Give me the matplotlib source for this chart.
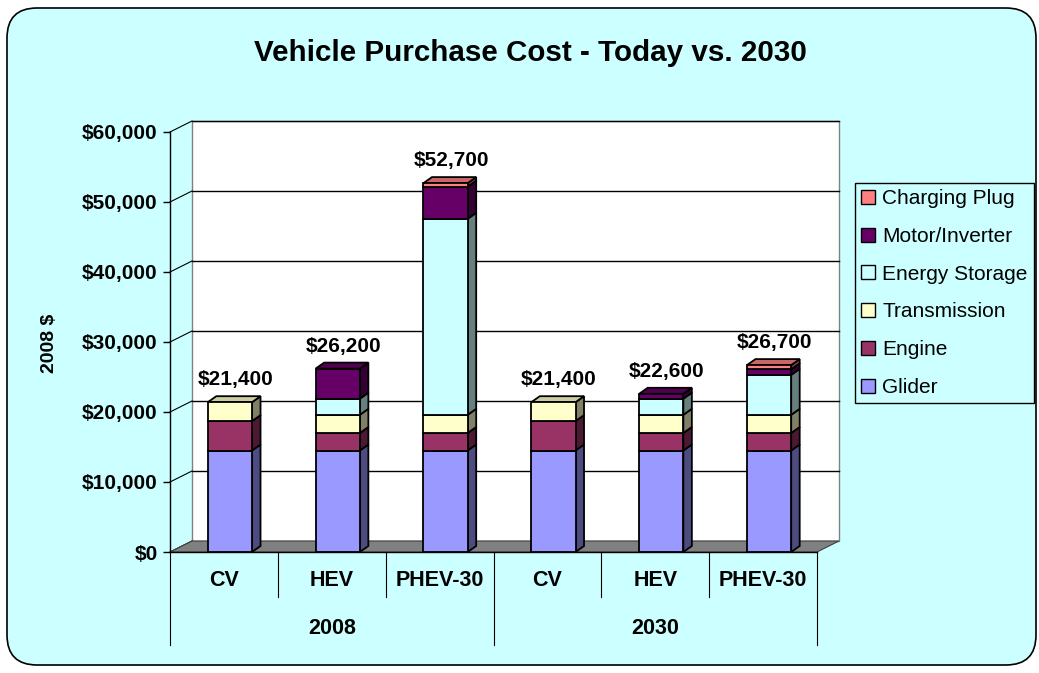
import matplotlib
matplotlib.use("Agg")
import matplotlib.pyplot as plt
from matplotlib.patches import Polygon, Rectangle, FancyBboxPatch, Patch
from matplotlib.ticker import FuncFormatter, MultipleLocator

plt.rcParams['font.family'] = ['Liberation Sans', 'DejaVu Sans']
plt.rcParams['font.weight'] = 'bold'

# data (2008 $)
vehicles = ["CV", "HEV", "PHEV-30", "CV", "HEV", "PHEV-30"]
years = ["2008", "2030"]
components = ["Glider", "Engine", "Transmission", "Energy Storage",
              "Motor/Inverter", "Charging Plug"]
glider = [14500, 14500, 14500, 14500, 14500, 14500]
engine = [4200, 2500, 2500, 4200, 2500, 2500]
transmission = [2700, 2600, 2600, 2700, 2600, 2600]
energy_storage = [0, 2300, 28000, 0, 2300, 5700]
motor_inverter = [0, 4300, 4600, 0, 700, 800]
charging_plug = [0, 0, 500, 0, 0, 600]
totals = [21400, 26200, 52700, 21400, 22600, 26700]

series = [glider, engine, transmission, energy_storage, motor_inverter, charging_plug]
face = ["#9999FF", "#993366", "#FFFFCC", "#CCFFFF", "#660066", "#FF8080"]
side = ["#4C4C80", "#4C1933", "#808066", "#668080", "#330033", "#804040"]
top = ["#8080D0", "#7A2952", "#CCCCA3", "#A3CCCC", "#520052", "#CC6666"]
bg = "#CCFFFF"

W, H = 1039, 673
fig = plt.figure(figsize=(W / 100, H / 100), dpi=100)
fig.patch.set_facecolor("white")
fig.patches.append(FancyBboxPatch((0.07, 0.08), 10.29, 6.57,
                                  boxstyle="round,pad=0,rounding_size=0.3",
                                  fc=bg, ec="black", lw=1.2,
                                  transform=fig.dpi_scale_trans, zorder=-5))

ax = fig.add_axes([170 / W, (H - 552) / H, 647 / W, 420 / H])
ax.set_xlim(0, 6)
ax.set_ylim(0, 60000)
ax.patch.set_visible(False)
for s in ["top", "right", "bottom"]:
    ax.spines[s].set_visible(False)
ax.spines["left"].set_linewidth(1)
ax.set_xticks([])
ax.yaxis.set_major_locator(MultipleLocator(10000))
ax.yaxis.set_major_formatter(FuncFormatter(lambda v, p: f"${v:,.0f}"))
ax.tick_params(axis="y", direction="out", length=5, width=1, labelsize=15, pad=4)

# 3d depth offsets (wall and bars) in data units
px_x = 647 / 6
px_y = 420 / 60000
wdx, wdy = 22 / px_x, 11 / px_y
bdx, bdy = 8.5 / px_x, 6 / px_y

# back wall + grid
ax.add_patch(Rectangle((wdx, wdy), 6, 60000, fc="white", ec="#808080", lw=1,
                       zorder=0.5, clip_on=False))
for v in range(10000, 60001, 10000):
    ax.plot([wdx, 6 + wdx], [v + wdy, v + wdy], color="black", lw=1,
            zorder=0.6, clip_on=False)
for v in range(0, 60001, 10000):
    ax.plot([0, wdx], [v, v + wdy], color="black", lw=0.8, zorder=0.6, clip_on=False)

# floor
ax.add_patch(Polygon([(0, 0), (6, 0), (6 + wdx, wdy), (wdx, wdy)], closed=True,
                     fc="#808080", ec="#404040", lw=0.8, zorder=0.7, clip_on=False))
ax.plot([0, 6], [0, 0], color="black", lw=1, zorder=0.8, clip_on=False)

# stacked 3d bars
width = 0.41
xs = [i + 0.5 + 6 / px_x for i in range(6)]
bottoms = [0] * 6
for j, vals in enumerate(series):
    for i, v in enumerate(vals):
        if v <= 0:
            continue
        b = bottoms[i]
        ax.bar(xs[i], v, bottom=b, width=width, color=face[j], edgecolor="black",
               lw=1.3, zorder=3)
        xr = xs[i] + width / 2
        xl = xs[i] - width / 2
        ax.add_patch(Polygon([(xr, b), (xr + bdx, b + bdy), (xr + bdx, b + v + bdy),
                              (xr, b + v)], closed=True, fc=side[j], ec="black",
                             lw=1.3, zorder=2.9, clip_on=False))
        if b + v >= totals[i] - 1:
            ax.add_patch(Polygon([(xl, b + v), (xl + bdx, b + v + bdy),
                                  (xr + bdx, b + v + bdy), (xr, b + v)], closed=True,
                                 fc=top[j], ec="black", lw=1.3, zorder=2.9,
                                 clip_on=False))
        bottoms[i] = b + v

for i, t in enumerate(totals):
    ax.annotate(f"${t:,}", (xs[i] + bdx / 2, t + bdy), xytext=(1, 5),
                textcoords="offset points", ha="center", va="bottom", fontsize=15)

# category axis boxes
tr = ax.get_xaxis_transform()
for i in range(7):
    low = -0.221 if i in (0, 3, 6) else -0.107
    ax.plot([i, i], [0, low], color="black", lw=0.8, transform=tr, clip_on=False)
for i, name in enumerate(vehicles):
    ax.text(i + 0.5, -0.0667, name, transform=tr, ha="center", va="center",
            fontsize=15.5)
for k, yr in enumerate(years):
    ax.text(3 * k + 1.5, -0.181, yr, transform=tr, ha="center", va="center",
            fontsize=15.5)

fig.text(50 / W, 1 - 343 / H, "2008 $", rotation=90, ha="center", va="center",
         fontsize=14)
fig.text(530 / W, 1 - 53 / H, "Vehicle Purchase Cost - Today vs. 2030",
         ha="center", va="center", fontsize=21.3)

handles = [Patch(fc=face[j], ec="black", lw=1, label=components[j])
           for j in range(len(components) - 1, -1, -1)]
leg = fig.legend(handles=handles, loc="upper left",
                 bbox_to_anchor=(855 / W, 1 - 183 / H), frameon=True, fancybox=False,
                 facecolor=bg, edgecolor="black", framealpha=1,
                 prop={"size": 15, "weight": "normal"}, handlelength=0.65,
                 handleheight=0.65, handletextpad=0.35, labelspacing=0.9,
                 borderpad=0.3, borderaxespad=0)
leg.get_frame().set_linewidth(1)

fig.savefig("out.png", dpi=100)
